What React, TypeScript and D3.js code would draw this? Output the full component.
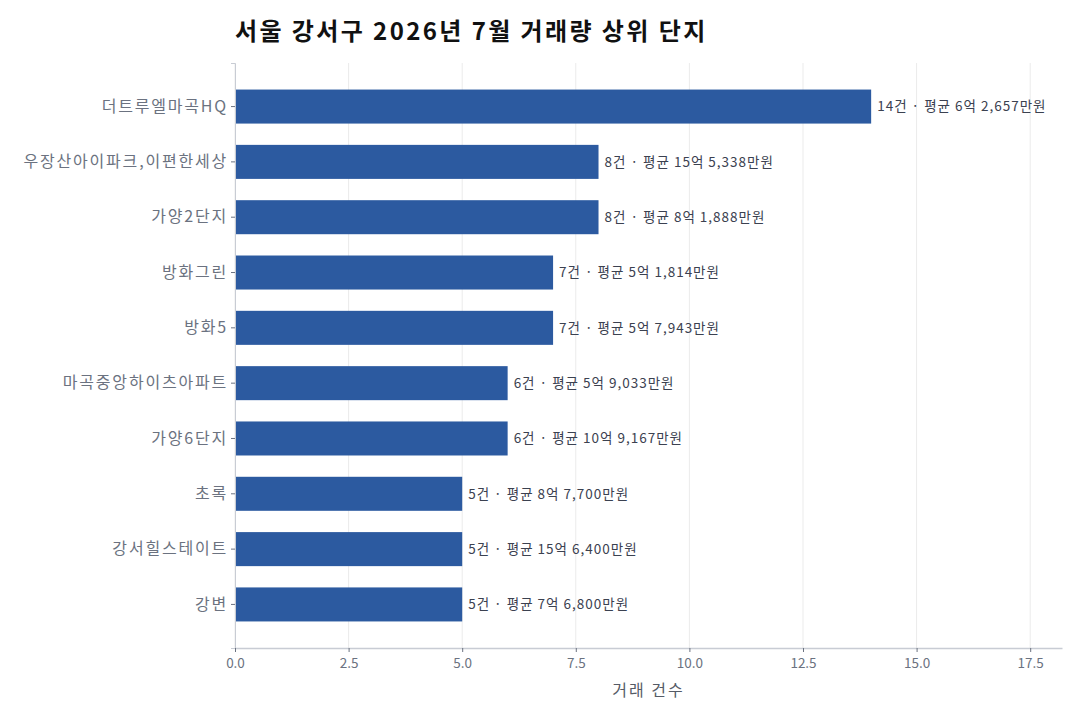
import { useEffect, useRef } from "react";
import * as d3 from "d3";

const complexes = [
  "더트루엘마곡HQ",
  "우장산아이파크,이편한세상",
  "가양2단지",
  "방화그린",
  "방화5",
  "마곡중앙하이츠아파트",
  "가양6단지",
  "초록",
  "강서힐스테이트",
  "강변",
];
const tradeCounts = [14, 8, 8, 7, 7, 6, 6, 5, 5, 5];
const avgPrices = [
  "6억 2,657만원",
  "15억 5,338만원",
  "8억 1,888만원",
  "5억 1,814만원",
  "5억 7,943만원",
  "5억 9,033만원",
  "10억 9,167만원",
  "8억 7,700만원",
  "15억 6,400만원",
  "7억 6,800만원",
];
const xTicks = [0, 2.5, 5, 7.5, 10, 12.5, 15, 17.5];

const FONT = "'Noto Sans CJK KR', 'Noto Sans', sans-serif";

const App = () => {
  const svgRef = useRef<SVGSVGElement>(null);

  useEffect(() => {
    const svg = d3.select(svgRef.current);
    svg.selectAll("*").remove();

    const width = 1080;
    const height = 720;
    const margin = { top: 63, right: 18, bottom: 72, left: 235 };
    const innerW = width - margin.left - margin.right;
    const innerH = height - margin.top - margin.bottom;

    svg.attr("width", width).attr("height", height).style("font-family", FONT);

    const data = complexes.map((name, i) => ({
      name,
      count: tradeCounts[i],
      label: `${tradeCounts[i]}건 · 평균 ${avgPrices[i]}`,
    }));

    const maxCount = d3.max(tradeCounts) || 0;
    const x = d3.scaleLinear().domain([0, maxCount * 1.3]).range([0, innerW]);
    const y = d3
      .scaleBand()
      .domain(complexes)
      .range([0, innerH])
      .paddingInner(0.385)
      .paddingOuter(0.48);

    const g = svg
      .append("g")
      .attr("transform", `translate(${margin.left},${margin.top})`);

    // vertical grid
    g.append("g")
      .selectAll("line")
      .data(xTicks)
      .enter()
      .append("line")
      .attr("x1", (d) => x(d))
      .attr("x2", (d) => x(d))
      .attr("y1", 0)
      .attr("y2", innerH)
      .attr("stroke", "#ebebeb")
      .attr("stroke-width", 1);

    // bars
    g.selectAll(".bar")
      .data(data)
      .enter()
      .append("rect")
      .attr("class", "bar")
      .attr("x", 0)
      .attr("y", (d) => y(d.name) || 0)
      .attr("width", (d) => x(d.count))
      .attr("height", y.bandwidth())
      .attr("fill", "#2c5aa0");

    // value labels
    g.selectAll(".val")
      .data(data)
      .enter()
      .append("text")
      .attr("class", "val")
      .attr("x", (d) => x(d.count) + 6)
      .attr("y", (d) => (y(d.name) || 0) + y.bandwidth() / 2)
      .attr("dy", "0.35em")
      .style("font-size", "13.5px")
      .style("letter-spacing", "1px")
      .attr("fill", "#3b4150")
      .text((d) => d.label);

    // y axis
    const yAxis = g
      .append("g")
      .call(d3.axisLeft(y).tickSize(4).tickPadding(3));
    yAxis.select(".domain").attr("stroke", "#c8ccd4");
    yAxis.selectAll(".tick line").attr("stroke", "#6b7280");
    yAxis
      .selectAll("text")
      .style("font-size", "16px")
      .style("letter-spacing", "1.8px")
      .style("font-family", FONT)
      .attr("fill", "#6b7280");

    // x axis
    const xAxis = g
      .append("g")
      .attr("transform", `translate(0,${innerH})`)
      .call(
        d3
          .axisBottom(x)
          .tickValues(xTicks)
          .tickFormat(d3.format(".1f"))
          .tickSize(4)
          .tickSizeOuter(0)
          .tickPadding(6)
      );
    xAxis.select(".domain").attr("stroke", "#c8ccd4").attr("stroke-width", 1.5);
    xAxis.selectAll(".tick line").attr("stroke", "#6b7280");
    xAxis
      .selectAll("text")
      .style("font-size", "13.5px")
      .style("font-family", FONT)
      .attr("fill", "#6b7280");

    g.append("text")
      .attr("x", innerW / 2)
      .attr("y", innerH + 48)
      .attr("text-anchor", "middle")
      .style("font-size", "16px")
      .style("letter-spacing", "2px")
      .attr("fill", "#555b66")
      .text("거래 건수");

    // title
    svg
      .append("text")
      .attr("x", margin.left)
      .attr("y", 40)
      .style("font-size", "24px")
      .style("font-weight", "bold")
      .style("letter-spacing", "2.4px")
      .attr("fill", "#111")
      .text("서울 강서구 2026년 7월 거래량 상위 단지");
  }, []);

  return (
    <div style={{ margin: -8 }}>
      <svg ref={svgRef}></svg>
    </div>
  );
};

export default App;
